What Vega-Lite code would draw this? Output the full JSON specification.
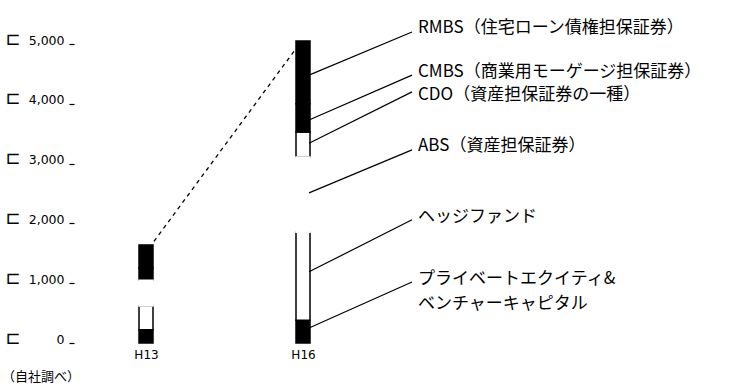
{
  "$schema": "https://vega.github.io/schema/vega-lite/v6.json",
  "width": 458,
  "height": 299,
  "autosize": {"type": "none"},
  "padding": {"left": 74, "top": 44, "right": 202, "bottom": 49},
  "background": "white",
  "config": {"view": {"stroke": null}},
  "title": {"text": "（自社調べ）", "orient": "bottom", "anchor": "start", "frame": "bounds", "offset": 11, "fontSize": 13, "fontWeight": "normal", "font": "Noto Sans CJK JP", "color": "black", "dx": -3},
  "datasets": {
    "bars": [
      {"year": "H13", "category": "PE", "lo": 0, "hi": 220},
      {"year": "H13", "category": "HF", "lo": 220, "hi": 620},
      {"year": "H13", "category": "CMBS", "lo": 1050, "hi": 1250},
      {"year": "H13", "category": "RMBS", "lo": 1250, "hi": 1640},
      {"year": "H16", "category": "PE", "lo": 0, "hi": 380},
      {"year": "H16", "category": "HF", "lo": 380, "hi": 1850},
      {"year": "H16", "category": "CDO", "lo": 3110, "hi": 3530},
      {"year": "H16", "category": "CMBS", "lo": 3530, "hi": 4000},
      {"year": "H16", "category": "RMBS", "lo": 4000, "hi": 5050},
      {"year": "H13", "category": "ABS", "lo": 620, "hi": 1050},
      {"year": "H16", "category": "ABS", "lo": 1850, "hi": 3110}
    ],
    "notes": [
      {"label": "RMBS（住宅ローン債権担保証券）", "text_y": 5260, "from_y": 4480, "to_y": 5200},
      {"label": "CMBS（商業用モーゲージ担保証券）", "text_y": 4540, "from_y": 3730, "to_y": 4480},
      {"label": "CDO（資産担保証券の一種）", "text_y": 4140, "from_y": 3340, "to_y": 4200},
      {"label": "ABS（資産担保証券）", "text_y": 3300, "from_y": 2510, "to_y": 3230},
      {"label": "ヘッジファンド", "text_y": 2110, "from_y": 1190, "to_y": 2060},
      {"label": "プライベートエクイティ&\nベンチャーキャピタル", "text_y": 1070, "from_y": 250, "to_y": 1020}
    ],
    "trend": [
      {"a": "H13", "b": "H16", "y1": 1700, "y2": 4900}
    ]
  },
  "layer": [
    {
      "data": {"name": "bars"},
      "mark": {"type": "bar", "size": 14},
      "encoding": {
        "x": {"field": "year", "type": "nominal",
          "scale": {"type": "point", "domain": ["H13", "H16", "注"], "padding": 0.4586},
          "axis": {"values": ["H13", "H16"], "title": null, "domain": false, "ticks": false, "labelAngle": 0, "labelFont": "DejaVu Sans", "labelFontSize": 12, "labelColor": "black", "labelPadding": 6}},
        "y": {"field": "lo", "type": "quantitative",
          "scale": {"domain": [0, 5000], "nice": false, "zero": true},
          "axis": {"values": [0, 1000, 2000, 3000, 4000, 5000], "format": ",d", "title": null, "domain": false, "grid": false, "ticks": true, "tickSize": 5, "tickColor": "black", "tickWidth": 1.2, "labelBaseline": "alphabetic", "labelPadding": 5, "labelFont": "DejaVu Sans", "labelFontSize": 12.5, "labelColor": "black", "orient": "left"}},
        "y2": {"field": "hi"},
        "fill": {"field": "category", "type": "nominal", "legend": null,
          "scale": {"domain": ["PE", "HF", "ABS", "CDO", "CMBS", "RMBS"], "range": ["black", "white", "white", "white", "black", "black"]}},
        "stroke": {"field": "category", "type": "nominal", "legend": null,
          "scale": {"domain": ["PE", "HF", "ABS", "CDO", "CMBS", "RMBS"], "range": ["black", "black", "white", "black", "black", "black"]}},
        "strokeWidth": {"field": "category", "type": "nominal", "legend": null,
          "scale": {"domain": ["PE", "HF", "ABS", "CDO", "CMBS", "RMBS"], "range": [1.5, 1.5, 3.5, 1.5, 1.5, 1.5]}}
      }
    },
    {
      "data": {"name": "trend"},
      "mark": {"type": "rule", "strokeDash": [4, 4], "strokeWidth": 1.3, "color": "black", "xOffset": 8, "x2Offset": -8},
      "encoding": {
        "x": {"field": "a", "type": "nominal"},
        "x2": {"field": "b"},
        "y": {"field": "y1", "type": "quantitative", "axis": null},
        "y2": {"field": "y2"}
      }
    },
    {
      "data": {"name": "notes"},
      "mark": {"type": "rule", "strokeWidth": 1.2, "color": "black", "xOffset": 6, "x2Offset": -48},
      "encoding": {
        "x": {"datum": "H16", "type": "nominal"},
        "x2": {"datum": "注"},
        "y": {"field": "from_y", "type": "quantitative",
          "scale": {"domain": [0, 5000], "nice": false, "zero": true},
          "axis": {"values": [0, 1000, 2000, 3000, 4000, 5000], "labelExpr": "'⊏'", "orient": "left", "offset": 69, "title": null, "domain": false, "grid": false, "ticks": false, "labelAlign": "left", "labelBaseline": "alphabetic", "labelPadding": 0, "labelFont": "DejaVu Sans", "labelFontSize": 18, "labelColor": "black"}},
        "y2": {"field": "to_y"}
      }
    },
    {
      "data": {"name": "notes"},
      "mark": {"type": "text", "align": "left", "baseline": "middle", "dx": -42, "font": "Noto Sans CJK JP", "fontSize": 17, "lineHeight": 25, "lineBreak": "\n", "color": "black"},
      "encoding": {
        "x": {"datum": "注", "type": "nominal"},
        "y": {"field": "text_y", "type": "quantitative", "axis": null},
        "text": {"field": "label"}
      }
    }
  ],
  "resolve": {"axis": {"y": "independent"}}
}
